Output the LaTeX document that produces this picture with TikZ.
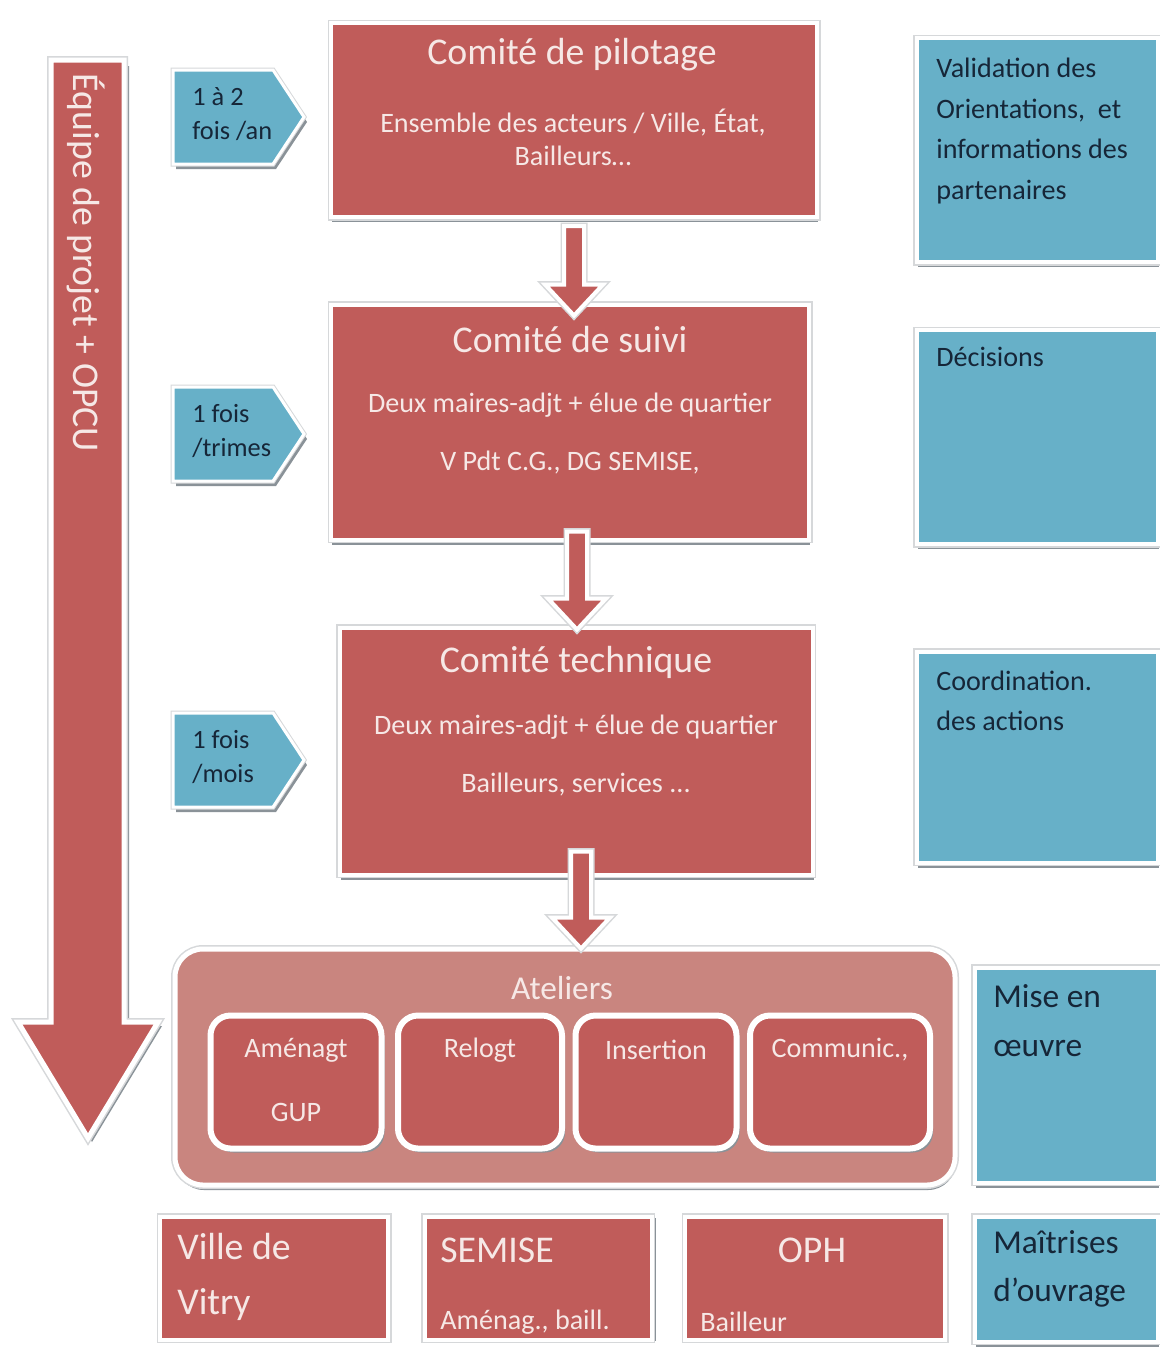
\documentclass[tikz,border=0pt]{standalone}
\usepackage{fontspec}
\setmainfont{Carlito}
\usetikzlibrary{calc,positioning,shadows}

\definecolor{boxred}{RGB}{192,92,90}
\definecolor{atelred}{RGB}{201,133,127}
\definecolor{boxblue}{RGB}{103,176,200}
\definecolor{shadgray}{RGB}{138,146,152}
\definecolor{rimgray}{RGB}{214,216,218}
\definecolor{paletxt}{RGB}{246,232,230}
\definecolor{darktxt}{RGB}{22,38,56}

\newlength\pu
\setlength\pu{0.02cm}
\newcommand\fs[2]{\fontsize{#1}{#2}\selectfont}

% hollow-looking fat arrow: dx, dy (start), from, to, tip overlap
\newcommand\fatarrow[5]{%
  \filldraw[fatarr] let \p1=($(#3.south)+(#1\pu,#2\pu)$), \p2=(#4.north) in
    (\x1-10\pu,\y1) -- (\x1+10\pu,\y1) -- (\x1+10\pu,\y2-#5\pu+31\pu)
    -- (\x1+29\pu,\y2-#5\pu+31\pu) -- (\x1,\y2-#5\pu)
    -- (\x1-29\pu,\y2-#5\pu+31\pu) -- (\x1-10\pu,\y2-#5\pu+31\pu) -- cycle;}

\tikzset{
  shad/.style={drop shadow={shadow xshift=1\pu, shadow yshift=-5\pu, fill=shadgray, opacity=1}},
  rim/.style={preaction={draw=rimgray, line width=#1}},
  rim/.default=7\pu,
  redbox/.style 2 args={fill=boxred, draw=white, line width=4\pu, inner sep=0pt,
    minimum width=#1\pu, minimum height=#2\pu, shad, rim},
  bluebox/.style 2 args={fill=boxblue, draw=white, line width=4\pu, inner sep=0pt,
    minimum width=#1\pu, minimum height=#2\pu, shad, rim},
  botbox/.style 2 args={fill=boxred, draw=white, line width=4\pu, inner sep=0pt,
    minimum width=#1\pu, minimum height=#2\pu,
    drop shadow={shadow xshift=4\pu, shadow yshift=-1\pu, fill=shadgray, opacity=1}, rim},
  atelbox/.style={fill=atelred, draw=white, line width=5\pu, rounded corners=28\pu,
    minimum width=780\pu, minimum height=236\pu, shad, rim=8\pu},
  subbox/.style={fill=boxred, draw=white, line width=6\pu, rounded corners=20\pu,
    minimum width=#1\pu, minimum height=133\pu,
    drop shadow={shadow xshift=3\pu, shadow yshift=-4\pu, fill=shadgray, opacity=1}},
  fatarr/.style={fill=boxred, draw=white, line width=4\pu, line join=miter, rim},
  bigarr/.style={fill=boxred, draw=white, line width=5\pu, line join=miter, rim=8\pu},
  freqbox/.style={fill=boxblue, draw=white, line width=3\pu, line join=miter, rim=5\pu},
  ttl/.style={text=paletxt, font=\fs{21.5}{26}, inner sep=0pt},
  sub/.style={text=paletxt, font=\fs{16}{18.7}, align=center, inner sep=0pt},
  wtxt/.style={text=paletxt, font=\fs{16}{19}, inner sep=0pt},
  bigtxt/.style={text=paletxt, font=\fs{21.5}{31}, align=left, inner sep=0pt},
  note/.style={text=darktxt, font=\fs{16}{23.2}, align=left, anchor=west, inner sep=0pt},
  freq/.style={text=darktxt, font=\fs{15}{19.8}, align=left, anchor=west, inner sep=0pt},
}

\begin{document}
\begin{tikzpicture}[x=1\pu, y=-1\pu]
    \useasboundingbox (0,0) rectangle (1160,1350);
    \fill[white] (0,0) rectangle (1160,1350);

    % project team arrow
    \fill[shadgray] (56,66) -- (129,66) -- (129,1026) -- (162,1026) -- (92,1142) -- (56,1080) -- cycle;
    \filldraw[bigarr] (51,60) -- (124,60) -- (124,1022) -- (158,1022) -- (88,1138)
        -- (18,1022) -- (51,1022) -- cycle;
    \node[ttl, rotate=-90] (team) at (86,263) {Équipe de projet + OPCU};

    % frequencies
    \foreach \nm/\cy/\lbl in {fan/117/{1 à 2\\fois /an}, ftr/434/{1 fois\\/trimes}, fmo/760/{1 fois\\/mois}}{
        \fill[shadgray, shift={(3,5)}] (173,\cy-47) -- (273,\cy-47) -- (304,\cy) -- (273,\cy+47) -- (173,\cy+47) -- cycle;
        \filldraw[freqbox] (173,\cy-47) -- (273,\cy-47) -- (304,\cy) -- (273,\cy+47) -- (173,\cy+47) -- cycle;
        \node[freq] (\nm) at (192,\cy-3) {\lbl};
    }

    % committees
    \node[redbox={486}{194}] (pil) at (574,120) {};
    \node[redbox={478}{235}] (sui) at (570,422) {};
    \node[redbox={473}{247}] (tec) at (576,751) {};

    % workshops
    \node[atelbox] (atel) at (565,1067) {};
    \foreach \nm/\cx/\bw/\lbl in {amg/296/171/Aménagt, rel/480/164/Relogt, ins/656/161/Insertion, com/840/180/{Communic.,}}{
        \node[subbox=\bw] (\nm) at (\cx,1082) {};
        \node[wtxt] (\nm T) at (\cx,1050) {\lbl};
    }
    \node[wtxt] (gup) at (296,1112) {GUP};
    \node[ttl, font=\fs{19}{23}] (atelT) at (562,988) {Ateliers};

    % links between levels
    \fatarrow{0}{-7}{pil}{sui}{13}
    \fatarrow{7}{10}{sui}{tec}{4}
    \fatarrow{5}{25}{tec}{atel}{2}

    \node[ttl] (pilT) at (572,55) {Comité de pilotage};
    \node[sub] (pilS) at (573,137) {Ensemble des acteurs / Ville, État,\\Bailleurs…};
    \node[ttl] (suiT) at (570,340) {Comité de suivi};
    \node[sub, font=\fs{16}{33}] (suiS) at (570,434) {Deux maires-adjt + élue de quartier\\V Pdt C.G., DG SEMISE,};
    \node[ttl] (tecT) at (576,662) {Comité technique};
    \node[sub, font=\fs{16}{33}] (tecS) at (576,756) {Deux maires-adjt + élue de quartier\\Bailleurs, services ...};

    % project owners
    \node[botbox={228}{123}] (ville) at (274,1278) {};
    \node[botbox={227}{123}] (semise) at (538,1278) {};
    \node[botbox={260}{123}] (oph) at (815,1278) {};
    \node[bigtxt, anchor=west] (villeT) at (177,1277) {Ville de\\Vitry};
    \node[bigtxt, anchor=west] (semT) at (440,1250) {SEMISE};
    \node[wtxt, anchor=west] (semS) at (440,1322) {Aménag., baill.};
    \node[bigtxt] (ophT) at (812,1250) {OPH};
    \node[wtxt, anchor=west] (ophS) at (700,1322) {Bailleur};

    % roles
    \node[bluebox={241}{224}] (val) at (1037,150) {};
    \node[bluebox={241}{214}] (dec) at (1037,437) {};
    \node[bluebox={241}{211}] (coo) at (1037,757) {};
    \node[bluebox={183}{215}] (mise) at (1066,1075) {};
    \node[bluebox={183}{125}] (mai) at (1066,1279) {};
    \node[note] (valT) at (936,131) {Validation des\\Orientations,~ et\\informations des\\partenaires};
    \node[note] (decT) at (936,357) {Décisions};
    \node[note, font=\fs{16}{22.7}] (cooT) at (936,701) {Coordination.\\des actions};
    \node[note, font=\fs{19}{27.8}] (miseT) at (993,1021) {Mise en\\œuvre};
    \node[note, font=\fs{19}{27.2}] (maiT) at (993,1269) {Maîtrises\\d’ouvrage};
\end{tikzpicture}
\end{document}
